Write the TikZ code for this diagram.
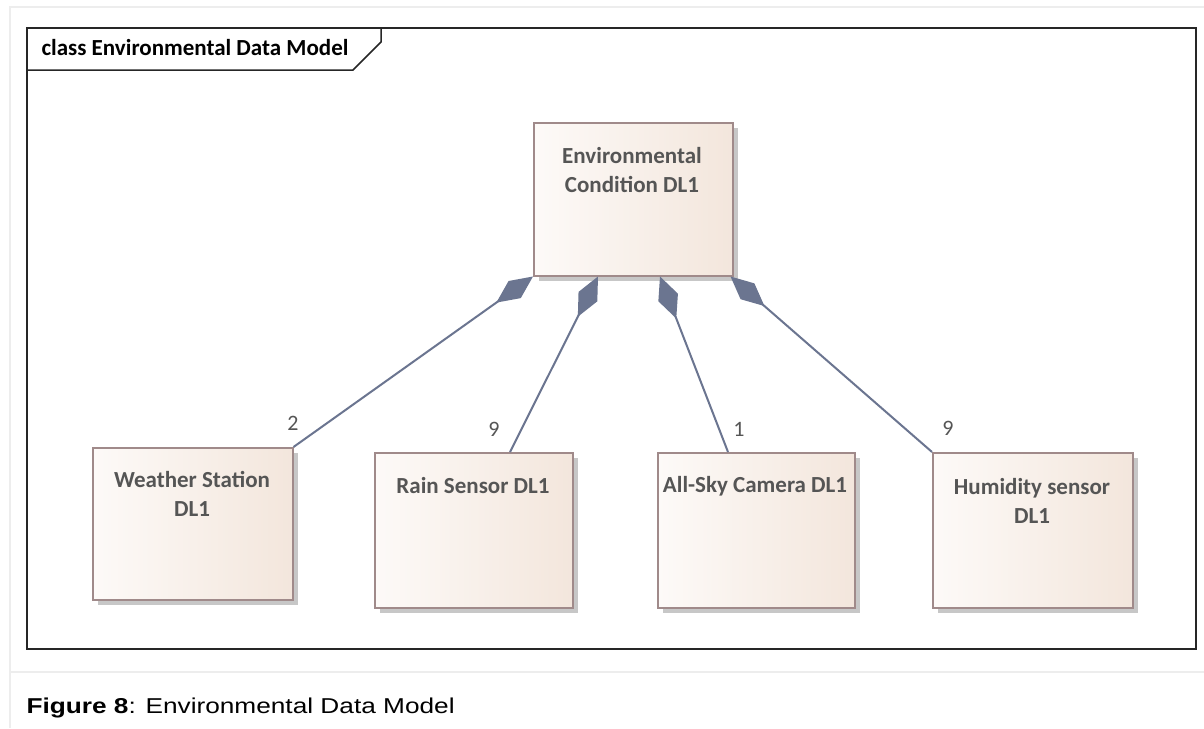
\documentclass[tikz,border=0pt]{standalone}
\usepackage{fontspec}
\setmainfont{Carlito}
\newfontfamily\capfont[FakeStretch=1.22]{Liberation Sans}
\usetikzlibrary{arrows.meta,shadows}
\definecolor{boxborder}{HTML}{A08A8A}
\definecolor{boxleft}{HTML}{FDFAF8}
\definecolor{boxright}{HTML}{F3E6DC}
\definecolor{linkcol}{HTML}{6B7590}
\definecolor{txtgray}{HTML}{555555}
\definecolor{framegray}{HTML}{EDEDED}
\tikzset{
  umlbox/.style={draw=boxborder, line width=1.5pt, left color=boxleft, right color=boxright,
    anchor=north west, inner sep=0pt,
    drop shadow={shadow xshift=5pt, shadow yshift=-5pt, fill=black!22, opacity=1}},
  boxtext/.style={font=\fontsize{23}{29}\selectfont\bfseries, text=txtgray, align=center},
  multtext/.style={font=\fontsize{22}{26}\selectfont, text=txtgray},
  comp/.style={draw=linkcol, line width=2pt, {Diamond[length=45pt,width=21pt]}-},
}
\begin{document}
\begin{tikzpicture}[x=1pt,y=-1pt]
\useasboundingbox (0,0) rectangle (1204,728);
\fill[white] (0,0) rectangle (1204,728);
% page frame
\draw[framegray, line width=2pt] (1204,7) -- (10,7) -- (10,728);
\draw[framegray, line width=2pt] (10,672) -- (1204,672);
% diagram frame
\draw[black!85, line width=2pt] (27,28) rectangle (1196,649);
\draw[black!85, line width=1.5pt] (27,70) -- (353,70) -- (381,42) -- (381,28);
\node[anchor=base west, font=\fontsize{23}{27}\selectfont\bfseries] (title) at (38,55) {class Environmental Data Model};
% boxes
\node[umlbox, minimum width=199pt, minimum height=153pt] (ec) at (533,122) {};
\node[umlbox, minimum width=200pt, minimum height=152pt] (ws) at (92,447) {};
\node[umlbox, minimum width=198pt, minimum height=155pt] (rs) at (374,452) {};
\node[umlbox, minimum width=197pt, minimum height=155pt] (as) at (657,452) {};
\node[umlbox, minimum width=200pt, minimum height=155pt] (hs) at (932,452) {};
% box texts
\node[boxtext] (ect) at (632,170) {Environmental\\Condition DL1};
\node[boxtext] (wst) at (192,494) {Weather Station\\DL1};
\node[boxtext] (rst) at (473,486) {Rain Sensor DL1};
\node[boxtext] (ast) at (755,486) {All-Sky Camera DL1};
\node[boxtext] (hst) at (1032,501) {Humidity sensor\\DL1};
% connector anchors
\coordinate (c1) at (ec.south west);
\coordinate (c2) at ([xshift=65pt]ec.south west);
\coordinate (c3) at ([xshift=127pt]ec.south west);
\coordinate (c4) at ([xshift=-3pt]ec.south east);
\coordinate (e2) at ([xshift=136pt]rs.north west);
\coordinate (e3) at ([xshift=71pt]as.north west);
% connectors
\draw[comp] (c1) -- (ws.north east);
\draw[comp] (c2) -- (e2);
\draw[comp] (c3) -- (e3);
\draw[comp] (c4) -- (hs.north west);
% multiplicities
\node[multtext] (m1) at (293,423) {2};
\node[multtext] (m2) at (494,429) {9};
\node[multtext] (m3) at (739,429) {1};
\node[multtext] (m4) at (948,428) {9};
% caption
\node[anchor=base west, font=\fontsize{21.5}{25}\selectfont\capfont] (cap) at (23,713) {\textbf{Figure 8}: Environmental Data Model};
\end{tikzpicture}
\end{document}
